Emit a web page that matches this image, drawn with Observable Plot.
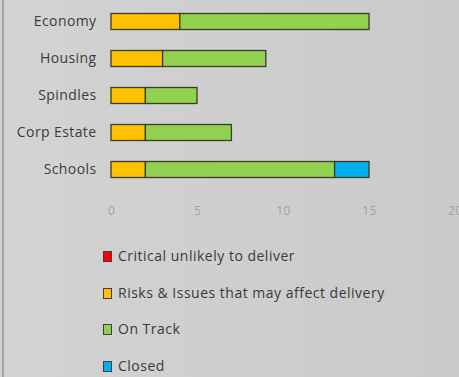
<!DOCTYPE html>
<html>
<head>
<meta charset="utf-8">
<script src="https://cdn.jsdelivr.net/npm/d3@7"></script>
<script src="https://cdn.jsdelivr.net/npm/@observablehq/plot@0.6"></script>
<style>
  html, body { margin: 0; padding: 0; }
  body { width: 459px; height: 377px; overflow: hidden; background: linear-gradient(90deg, #d3d3d3, #cacaca); position: relative; font-family: "Open Sans", Lato, sans-serif; }
  #border { position: absolute; left: 2px; top: 0; width: 2px; height: 377px; background: #a6a6a6; }
  #chart { position: absolute; left: 0; top: 0; }
  #legend { position: absolute; left: 103px; top: 246px; font-size: 14px; letter-spacing: 0.5px; color: #3a3a3a; }
  .item { height: 36.5px; display: flex; align-items: flex-start; }
  .sw { width: 7px; height: 9px; margin-top: 5px; margin-right: 6px; border: 1px solid #404040; }
</style>
</head>
<body>
<div id="border"></div>
<div id="chart"></div>
<div id="legend"></div>
<script>
const categories = ["Economy", "Housing", "Spindles", "Corp Estate", "Schools"];
const seriesNames = ["Critical unlikely to deliver", "Risks & Issues that may affect delivery", "On Track", "Closed"];
const seriesColors = ["#ff0000", "#ffc000", "#92d050", "#00b0f0"];
const critical = [0, 0, 0, 0, 0];
const risks = [4, 3, 2, 2, 2];
const onTrack = [11, 6, 3, 5, 11];
const closed = [0, 0, 0, 0, 2];
const xTicks = [0, 5, 10, 15, 20];

const seriesValues = [critical, risks, onTrack, closed];
const rows = [];
categories.forEach((c, i) => {
  seriesNames.forEach((s, j) => {
    rows.push({category: c, series: s, value: seriesValues[j][i]});
  });
});

const chart = Plot.plot({
  width: 459,
  height: 232,
  marginLeft: 111,
  marginRight: 4,
  marginTop: 1,
  marginBottom: 43,
  style: {background: "transparent", fontFamily: "'Open Sans', Lato, sans-serif", letterSpacing: "0.4px"},
  x: {domain: [0, 20], ticks: xTicks, label: null},
  y: {domain: categories, padding: 0, label: null},
  color: {domain: seriesNames, range: seriesColors},
  marks: [
    Plot.barX(rows.filter(d => d.value > 0), Plot.stackX({
      x: "value", y: "category", fill: "series", order: seriesNames,
      stroke: "#3b3b2a", strokeWidth: 1.3, insetTop: 10.5, insetBottom: 10.5
    })),
    Plot.axisY({tickSize: 0, tickPadding: 15, fontSize: 14, fill: "#3c3c3c"}),
    Plot.axisX({ticks: xTicks, tickSize: 0, tickPadding: 17, fontSize: 12, fill: "#a2a2a2"})
  ]
});
document.getElementById("chart").appendChild(chart);

const legend = document.getElementById("legend");
seriesNames.forEach((s, j) => {
  const item = document.createElement("div");
  item.className = "item";
  const sw = document.createElement("div");
  sw.className = "sw";
  sw.style.background = seriesColors[j];
  const t = document.createElement("span");
  t.textContent = s;
  item.appendChild(sw);
  item.appendChild(t);
  legend.appendChild(item);
});
</script>
</body>
</html>
